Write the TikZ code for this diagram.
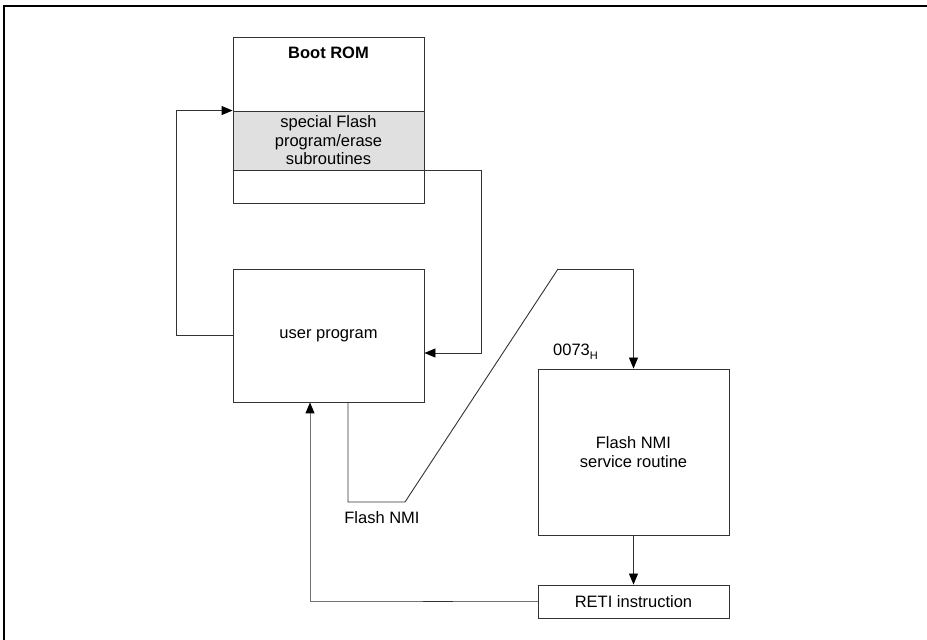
\documentclass[tikz,border=0pt]{standalone}
\usepackage{fontspec}
\setmainfont{Liberation Sans}
\usetikzlibrary{arrows.meta,calc}
\tikzset{
  blk/.style={draw=black!80,line width=0.9pt,minimum width=191pt,inner sep=0pt,align=center},
  band/.style={blk,fill=black!12},
  conn/.style={draw=black!80,line width=0.9pt},
  arr/.style={conn,-{Triangle[length=11pt,width=9pt,fill=black,color=black]}},
  txt/.style={inner sep=0pt,align=center}
}
\newcommand{\subH}{\raisebox{-4pt}{\fontsize{11}{11}\selectfont H}}
\begin{document}
\begin{tikzpicture}[x=1pt,y=1pt,font=\fontsize{16.5}{18.5}\selectfont]
\useasboundingbox (0,0) rectangle (927,640);
\draw[line width=1.6pt] (4,0) -- (4,634) -- (927,634);

\node[blk,minimum height=166pt] (bootrom) at (328.5,520) {};
\node[band,minimum height=59pt] (flashsub) at (328.5,499.5) {special Flash\\program/erase\\subroutines};
\node[txt,font=\fontsize{16.5}{18.5}\selectfont\bfseries] (bootlbl) at (328.5,587) {Boot ROM};
\node[blk,minimum height=133pt] (userprog) at (328.5,304.5) {user program};
\node[blk,minimum height=166pt] (nmi) at (633.5,188) {Flash NMI\\service routine};
\node[blk,minimum height=33pt] (reti) at (633.5,38.5) {RETI instruction};

\node[txt] (nmilbl) at (382,122) {Flash NMI};
\node[txt,anchor=west] (addr) at (553,288) {0073\subH};

% call and return of the flash subroutines
\draw[arr] (userprog.west) -- ++(-56,0) |- (flashsub.north west);
\draw[arr] (flashsub.south east) -- ++(57,0) |- ($(userprog.east)+(0,-17.5)$);

% NMI entry
\coordinate (nmia) at (348,138);
\coordinate (nmib) at (405,138);
\coordinate (nmic) at (558,371);
\draw[conn] (userprog.south -| nmia) -- (nmia) -- (nmib) -- (nmic);
\draw[arr] (nmic) -| (nmi.north);
\draw[arr] (nmi.south) -- (reti.north);

% back to the user program
\coordinate (ret) at (310,38.5);
\draw[arr,black!55] (reti.west) -- (ret) -- (userprog.south -| ret);
\draw[black!80,line width=1.6pt] (423,38.5) -- (453,38.5);
\end{tikzpicture}
\end{document}
